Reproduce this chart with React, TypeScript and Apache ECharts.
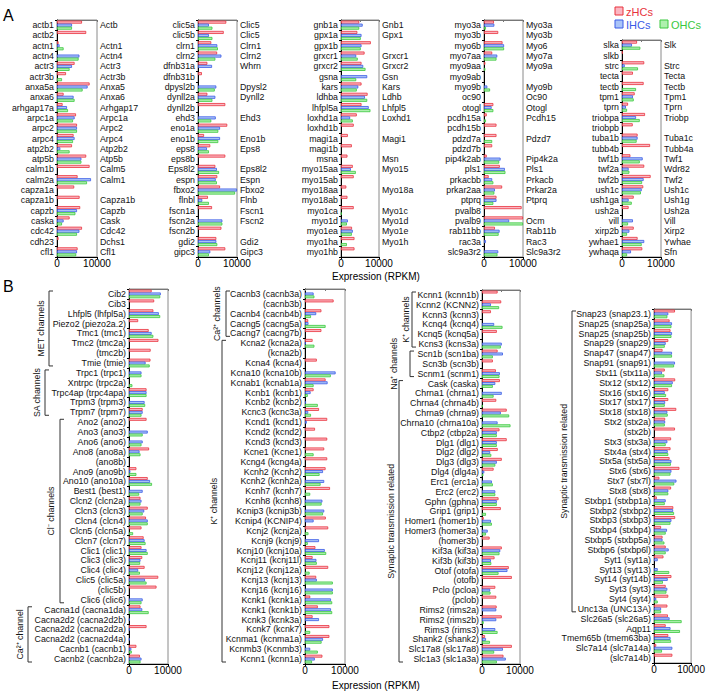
import React, { useEffect, useRef } from "react";
import * as echarts from "echarts";

// ---------- Panel A ----------
const aZf1 = ["actb1","actb2","actn1","actn4","actr3","actr3b","anxa5a","anxa6","arhgap17a","arpc1a","arpc2","arpc4","atp2b2","atp5b","calm1b","calm2a","capza1a","capza1b","capzb","caska","cdc42","cdh23","cfl1"];
const aMm1 = ["Actb","","Actn1","Actn4","Actr3","Actr3b","Anxa5","Anxa6","Arhgap17","Arpc1a","Arpc2","Arpc4","Atp2b2","Atp5b","Calm5","Calm1","","Capza1b","Capzb","Cask","Cdc42","Dchs1","Cfl1"];
const aZ1 = [6250,7300,400,0,4400,2250,8150,1650,1400,4750,5000,4150,3750,7300,8150,5150,4300,5650,5800,3150,6250,400,5150];
const aI1 = [3750,0,650,5600,3750,0,7650,4150,2500,4400,5000,4400,830,6100,0,8500,0,0,5000,1650,5600,0,5000];
const aO1 = [3750,0,1650,5400,3150,1250,6400,4400,2750,4000,5000,4000,3150,6100,0,7500,0,0,4600,1250,5000,0,4800];

const aZf2 = ["clic5a","clic5b","clrn1","clrn2","dfnb31a","dfnb31b","dpysl2b","dynll2a","dynll2b","ehd3","eno1a","eno1b","eps8","eps8b","Eps8l2","espn","fbxo2","flnbl","fscn1a","fscn2a","fscn2b","gdi2","gipc3"];
const aMm2 = ["Clic5","Clic5","Clrn1","Clrn2","Whrn","","Dpysl2","Dynll2","","Ehd3","","Eno1b","Eps8","","Eps8l2","Espn","Fbxo2","Flnb","Fscn1","Fscn2","","Gdi2","Gipc3"];
const aZ2 = [7250,6600,3400,4900,2400,1000,0,2400,7000,0,7500,1550,3150,7000,4450,4950,5650,2550,3600,0,6000,4700,7000];
const aI2 = [2800,2800,4950,6000,3600,0,4700,4450,0,4550,5650,5650,2300,0,4850,4550,10000,1100,0,6250,0,4700,3150];
const aO2 = [3700,3700,5100,4450,0,0,4300,3700,0,3400,5200,5200,2800,0,5400,4850,9500,2800,0,6250,0,4950,2800];

const aZf3 = ["gnb1a","gpx1a","gpx1b","grxcr1","grxcr2","gsna","kars","ldhba","lhfpl5a","loxhd1a","loxhd1b","magi1a","magi1b","msna","myo15aa","myo15ab","myo18aa","myo18ab","myo1ca","myo1d","myo1ea","myo1ha","myo1hb"];
const aMm3 = ["Gnb1","Gpx1","","Grxcr1","Grxcr2","Gsn","Kars","Ldhb","Lhfpl5","Loxhd1","","Magi1","","Msn","Myo15","","Myo18a","","Myo1c","Myo1d","Myo1e","Myo1h",""];
const aZ3 = [4800,4300,7850,6200,5400,0,5400,7000,5400,4150,3350,1800,2850,1700,3100,3350,1400,1700,3350,0,2900,3550,3550];
const aI3 = [5700,5400,5400,4000,5850,6900,4550,6300,7300,2400,0,0,0,0,2600,0,0,0,0,1800,3100,0,0];
const aO3 = [4800,5200,5200,4400,6450,4000,4150,6900,7750,3100,0,0,0,0,3900,0,0,0,150,1550,2850,1550,0];

const aZf4 = ["myo3a","myo3b","myo6b","myo7aa","myo9aa","myo9ab","myo9b","oc90","otogl","pcdh15a","pcdh15b","pdzd7a","pdzd7b","pip4k2ab","pls1","prkacbb","prkar2aa","ptprq","pvalb8","pvalb9","rab11bb","rac3a","slc9a3r2"];
const aMm4 = ["Myo3a","Myo3b","Myo6","Myo7a","Myo9a","","Myo9b","Oc90","Otogl","Pcdh15","","Pdzd7","","Pip4k2a","Pls1","Prkacb","Prkar2a","Ptprq","","Ocm","Rab11b","Rac3","Slc9a3r2"];
const aZ4 = [2550,3650,4750,2100,350,0,0,0,2400,700,3200,3200,2100,700,4050,1200,4650,3200,9650,10000,2800,0,0];
const aI4 = [2650,0,5150,3400,0,0,850,0,1950,0,0,0,0,4250,5350,2100,2800,3200,0,6450,4000,500,3650];
const aO4 = [500,0,5150,3200,350,0,1550,0,2400,500,0,2100,0,3900,5500,2400,2650,2400,0,10000,3750,0,3450];

const aZf5 = ["slka","slkb","strc","tecta","tectb","tpm1","tprn","triobpa","triobpb","tuba1b","tubb4b","twf1b","twf2a","twf2b","ush1c","ush1ga","ush2a","vill","xirp2b","ywhae1","ywhaqa"];
const aMm5 = ["Slk","","Strc","Tecta","Tectb","Tpm1","Tprn","Triobp","","Tuba1c","Tubb4a","Twf1","Wdr82","Twf2","Ush1c","Ush1g","Ush2a","Vill","Xirp2","Ywhae","Sfn"];
const aZ5 = [3850,170,5700,2800,5550,3250,1550,5900,2750,4000,7200,2150,5700,7350,5450,3000,1700,0,3000,4000,5200];
const aI5 = [2550,0,700,0,0,2800,1000,3600,0,4000,0,5300,1700,5550,5050,1700,0,2800,1900,5700,2300];
const aO5 = [4700,0,4100,0,3600,3000,1300,4550,0,3750,0,4550,1900,5150,4850,2500,0,1550,1300,5050,1300];

// ---------- Panel B ----------
const bCat1 = ["Cib2","Cib3","Lhfpl5 (lhfpl5a)","Piezo2 (piezo2a.2)","Tmc1 (tmc1)","Tmc2 (tmc2a)","(tmc2b)","Tmie (tmie)","Trpc1 (trpc1)","Xntrpc (trpc2a)","Trpc4ap (trpc4apa)","Trpm3 (trpm3)","Trpm7 (trpm7)","Ano2 (ano2)","Ano3 (ano3)","Ano6 (ano6)","Ano8 (ano8a)","(ano8b)","Ano9 (ano9b)","Ano10 (ano10a)","Best1 (best1)","Clcn2 (clcn2a)","Clcn3 (clcn3)","Clcn4 (clcn4)","Clcn5 (clcn5a)","Clcn7 (clcn7)","Clic1 (clic1)","Clic3 (clic3)","Clic4 (clic4)","Clic5 (clic5a)","(clic5b)","Clic6 (clic6)","Cacna1d (cacna1da)","Cacna2d2 (cacna2d2b)","Cacna2d2 (cacna2d2a)","Cacna2d2 (cacna2d4a)","Cacnb1 (cacnb1)","Cacnb2 (cacnb2a)"];
const bZ1 = [5800,6450,6250,2350,5050,7550,5550,5500,0,0,4500,0,3500,4500,0,0,5150,0,1900,4800,0,2950,4800,4350,3200,3750,3200,3400,4000,7500,7050,0,2950,0,4500,0,1900,2800];
const bI1 = [8150,0,7650,0,5800,0,0,4250,3200,0,4500,4000,3500,0,4800,3500,2700,0,350,5400,3500,3200,3900,4800,0,4000,4500,2950,2350,4100,0,3500,3400,170,170,170,600,3200];
const bO1 = [8000,0,8000,0,6250,0,0,5300,3200,870,4500,4150,3200,0,3500,3200,2950,0,1900,5900,2600,2950,3500,4800,1050,4250,4800,2850,2800,4500,0,3200,5050,0,0,0,700,2950];

const bCat2 = ["Cacnb3 (cacnb3a)","(cacnb3b)","Cacnb4 (cacnb4b)","Cacng5 (cacng5a)","Cacng7 (cacng7b)","Kcna2 (kcna2a)","(kcna2b)","Kcna4 (kcna4)","Kcna10 (kcna10b)","Kcnab1 (kcnab1a)","Kcnb1 (kcnb1)","Kcnb2 (kcnb2)","Kcnc3 (kcnc3a)","Kcnd1 (kcnd1)","Kcnd2 (kcnd2)","Kcnd3 (kcnd3)","Kcne1 (Kcne1)","Kcng4 (kcng4a)","Kcnh2 (Kcnh2)","Kcnh2 (kcnh2a)","Kcnh7 (kcnh7)","Kcnh8 (kcnh8)","Kcnip3 (kcnip3b)","Kcnip4 (KCNIP4)","Kcnj2 (kcnj2a)","Kcnj9 (kcnj9)","Kcnj10 (kcnj10a)","Kcnj11 (kcnj11l)","Kcnj12 (kcnj12a)","Kcnj13 (kcnj13)","Kcnj16 (kcnj16)","Kcnk1 (kcnk1a)","Kcnk1 (kcnk1b)","Kcnk3 (kcnk3a)","Kcnk7 (kcnk7)","Kcnma1 (kcnma1a)","Kcnmb3 (Kcnmb3)","Kcnn1 (kcnn1a)"];
const bZ2 = [0,7150,4100,800,4100,1900,0,2950,0,5150,2150,0,3500,5550,2500,5550,4800,5550,5150,0,6250,0,0,5200,5800,0,2600,1900,5800,2800,0,1300,3200,1900,6100,6100,0,4350];
const bI2 = [2150,0,2800,870,0,170,0,0,7650,5650,1400,250,800,450,0,0,0,0,4500,4800,0,4350,4800,2150,0,3500,4950,2850,0,2950,6950,6500,6500,3500,0,4500,1300,2450];
const bO2 = [2350,0,1500,5150,0,2350,0,0,6450,2150,700,3200,1500,0,0,0,2150,0,3650,3900,1300,4150,4500,0,870,700,5300,2950,1150,6950,6950,6800,6800,0,1300,4150,3200,1750];

const bCat3 = ["Kcnn1 (kcnn1b)","Kcnn2 (KCNN2)","Kcnn3 (kcnn3)","Kcnq4 (kcnq4)","Kcnq5 (kcnq5a)","Kcns3 (kcns3a)","Scn1b (scn1ba)","Scn3b (scn3b)","Scnm1 (scnm1)","Cask (caska)","Chrna1 (chrna1)","Chrna4 (chrna4b)","Chrna9 (chrna9)","Chrna10 (chrna10a)","Ctbp2 (ctbp2a)","Dlg1 (dlg1)","Dlg2 (dlg2)","Dlg3 (dlg3)","Dlg4 (dlg4a)","Erc1 (erc1a)","Erc2 (erc2)","Gphn (gphna)","Grip1 (grip1)","Homer1 (homer1b)","Homer3 (homer3a)","(homer3b)","Kif3a (kif3a)","Kif3b (kif3b)","Otof (otofa)","(otofb)","Pclo (pcloa)","(pclob)","Rims2 (rims2a)","Rims2 (rims2b)","Rims3 (rims3)","Shank2 (shank2)","Slc17a8 (slc17a8)","Slc1a3 (slc1a3a)"];
const bZ3 = [4100,5050,2350,0,3900,0,4100,2850,3650,4700,0,3750,6500,0,4600,6500,4150,5200,3050,0,0,4350,4950,450,0,2000,5200,3300,7050,7850,3500,3750,3850,5200,0,800,7850,5650];
const bI3 = [0,2350,0,3200,0,5200,5500,0,4700,3500,5200,0,4950,4100,3900,3900,2150,3900,600,2600,3500,3900,0,2350,1500,0,4800,2350,6700,0,2150,0,3750,3750,3500,1050,5500,6250];
const bO3 = [0,4500,0,5400,0,4950,2850,0,4600,2850,3050,170,7150,7500,3900,3900,2450,3500,350,2850,3500,3900,1050,2600,1050,0,4600,2450,4350,0,2250,0,0,450,4100,2100,3200,3900];

const bCat4 = ["Snap23 (snap23.1)","Snap25 (snap25a)","Snap25 (snap25b)","Snap29 (snap29)","Snap47 (snap47)","Snap91 (snap91)","Stx11 (stx11a)","Stx12 (stx12)","Stx16 (stx16)","Stx17 (stx17)","Stx18 (stx18)","Stx2 (stx2a)","(stx2b)","Stx3 (stx3a)","Stx4a (stx4)","Stx5a (stx5a)","Stx6 (stx6)","Stx7 (stx7l)","Stx8 (stx8)","Stxbp1 (stxbp1a)","Stxbp2 (stxbp2)","Stxbp3 (stxbp3)","Stxbp4 (stxbp4)","Stxbp5 (stxbp5a)","Stxbp6 (stxbp6l)","Syt1 (syt1a)","Syt13 (syt13)","Syt14 (syt14b)","Syt3 (syt3)","Syt4 (syt4)","Unc13a (UNC13A)","Slc26a5 (slc26a5)","Aqp11","Tmem65b (tmem63ba)","Slc7a14 (slc7a14a)","(slc7a14b)"];
const bZ4 = [5650,4200,4450,3850,2300,0,2900,5700,3850,3850,6000,3000,5650,4600,4450,4200,6850,1450,4600,750,5200,5700,1900,2300,3150,2550,0,4700,3150,3850,3600,3750,3150,3850,600,4950];
const bI4 = [3850,4850,4850,3150,4850,5650,2150,5050,2900,3000,3600,3000,0,3600,3700,4700,4700,6050,3850,3150,5150,4700,3500,2300,3950,1000,1000,3700,3600,600,1900,4200,4450,4450,4950,0];
const bO4 = [3600,4700,4700,2900,4850,5400,2800,4850,3250,2900,3700,2900,0,3150,3850,4550,4450,5450,3850,2900,5400,4450,3150,2800,3150,0,4100,2400,3350,1000,1900,7450,7000,4600,2150,0];

const seriesNames = ["zHCs", "IHCs", "OHCs"];
const axisTitle = "Expression (RPKM)";
const xTicks = { min: 0, max: 10000, interval: 10000 };

const FONT = '"Liberation Sans", Arial, Helvetica, sans-serif';
const FILLS = ["#fbb6c2", "#aac4f8", "#aef0ae"];
const LINES = ["#e8323c", "#3a5ae6", "#3ac83e"];

export default function App() {
  const ref = useRef<HTMLDivElement>(null);
  useEffect(() => {
    const chart = echarts.init(ref.current!, null, { renderer: "svg" });
    const panels: any[] = [
      { cats: aZf1, mm: aMm1, vals: [aZ1, aI1, aO1], left: 57, top: 20, width: 40, height: 237 },
      { cats: aZf2, mm: aMm2, vals: [aZ2, aI2, aO2], left: 198, top: 20, width: 39, height: 237 },
      { cats: aZf3, mm: aMm3, vals: [aZ3, aI3, aO3], left: 341, top: 20, width: 38, height: 237 },
      { cats: aZf4, mm: aMm4, vals: [aZ4, aI4, aO4], left: 484, top: 20, width: 39, height: 237 },
      { cats: aZf5, mm: aMm5, vals: [aZ5, aI5, aO5], left: 622, top: 40, width: 39, height: 217 },
      { cats: bCat1, vals: [bZ1, bI1, bO1], left: 129, top: 289, width: 39, height: 375 },
      { cats: bCat2, vals: [bZ2, bI2, bO2], left: 305, top: 289, width: 40, height: 375 },
      { cats: bCat3, vals: [bZ3, bI3, bO3], left: 482, top: 290, width: 38, height: 374 },
      { cats: bCat4, vals: [bZ4, bI4, bO4], left: 654, top: 309, width: 39, height: 354 },
    ];
    const grid: any[] = [];
    const xAxis: any[] = [];
    const yAxis: any[] = [];
    const series: any[] = [];
    panels.forEach((p, k) => {
      grid.push({
        left: p.left, top: p.top, width: p.width, height: p.height,
        show: true, borderColor: "#8a8a8a", borderWidth: 1, containLabel: false,
      });
      xAxis.push({
        type: "value", gridIndex: k, ...xTicks,
        axisLine: { show: true, lineStyle: { color: "#000", width: 1 } },
        axisTick: { show: true, length: 2, lineStyle: { color: "#000" } },
        axisLabel: { fontSize: 10, color: "#000", margin: 1, fontFamily: FONT, formatter: (v: number) => String(v) },
        splitLine: { show: false },
      });
      xAxis.push({
        type: "value", gridIndex: k, position: "top", min: 0, max: 10000, interval: 5000,
        axisLine: { show: true, lineStyle: { color: "#777", width: 1 } },
        axisTick: { show: true, inside: true, length: 2, lineStyle: { color: "#777" } },
        axisLabel: { show: false }, splitLine: { show: false },
      });
      const yi = yAxis.length;
      yAxis.push({
        type: "category", gridIndex: k, data: p.cats, inverse: true,
        axisLine: { show: true, lineStyle: { color: "#000", width: 1 } },
        axisTick: { show: true, length: 2, lineStyle: { color: "#000" } },
        axisLabel: { interval: 0, fontSize: 8.8, color: "#111", margin: 3, fontFamily: FONT },
      });
      if (p.mm) {
        const mm = p.mm;
        yAxis.push({
          type: "category", gridIndex: k, data: p.cats, inverse: true, position: "right",
          axisLine: { show: false }, axisTick: { show: false },
          axisLabel: {
            interval: 0, fontSize: 8.8, color: "#111", margin: 3, fontFamily: FONT,
            formatter: (_v: string, i: number) => mm[i],
          },
        });
      }
      p.vals.forEach((vals: number[], s: number) => {
        series.push({
          type: "bar", name: seriesNames[s], xAxisIndex: 2 * k, yAxisIndex: yi,
          data: vals.map((v) => (v === 0 ? null : v)),
          barGap: "0%", barCategoryGap: "12%", silent: true,
          itemStyle: { color: FILLS[s], borderColor: LINES[s], borderWidth: 0.8 },
        });
      });
    });

    const graphic: any[] = [];
    const txt = (x: number, y: number, text: string, size: number, extra: any = {}) => ({
      type: "text", x, y, silent: true, ...extra,
      style: {
        text, fontSize: size, fontFamily: FONT, fill: extra.fill || "#000",
        align: extra.align || "left", verticalAlign: "middle",
        textAlign: extra.align || "left", textVerticalAlign: "middle",
      },
    });
    graphic.push(txt(3, 15, "A", 16));
    graphic.push(txt(3, 286, "B", 16));
    graphic.push(txt(376, 276, axisTitle, 10, { align: "center" }));
    graphic.push(txt(376, 685, axisTitle, 10, { align: "center" }));
    // legend
    const leg = [
      { x: 615, y: 7, name: seriesNames[0], s: 0 },
      { x: 615, y: 20, name: seriesNames[1], s: 1 },
      { x: 660, y: 20, name: seriesNames[2], s: 2 },
    ];
    leg.forEach((l) => {
      graphic.push({ type: "rect", shape: { x: l.x, y: l.y, width: 8, height: 8 }, style: { fill: FILLS[l.s], stroke: LINES[l.s], lineWidth: 1 } });
      graphic.push(txt(l.x + 11, l.y + 4.5, l.name, 11, { fill: LINES[l.s] }));
    });
    // brackets
    const brackets = [
      { g: 5, i0: 0, i1: 7, x: 49, lx: 41, t: "MET channels" },
      { g: 5, i0: 8, i1: 12, x: 45, lx: 37, t: "SA channels" },
      { g: 5, i0: 13, i1: 31, x: 60, lx: 51, t: "Cl\u207B channels" },
      { g: 5, i0: 32, i1: 37, x: 28, lx: 20, t: "Ca\u00B2\u207A channel" },
      { g: 6, i0: 0, i1: 4, x: 226, lx: 217, t: "Ca\u00B2\u207A channels" },
      { g: 6, i0: 5, i1: 37, x: 222, lx: 214, t: "K\u207A channels" },
      { g: 7, i0: 0, i1: 5, x: 412, lx: 406, t: "K\u207A channels" },
      { g: 7, i0: 6, i1: 8, x: 410, lx: 394, t: "Na\u207A channels" },
      { g: 7, i0: 9, i1: 37, x: 399, lx: 391, t: "Synaptic transmission related" },
      { g: 8, i0: 0, i1: 30, x: 572, lx: 564, t: "Synaptic transmission related" },
    ];
    brackets.forEach((b) => {
      const p = panels[b.g];
      const rh = p.height / p.cats.length;
      const y1 = p.top + b.i0 * rh + 2;
      const y2 = p.top + (b.i1 + 1) * rh - 2;
      graphic.push({
        type: "polyline", silent: true,
        shape: { points: [[b.x + 4, y1], [b.x, y1], [b.x, y2], [b.x + 4, y2]] },
        style: { stroke: "#333", fill: null, lineWidth: 1 },
      });
      graphic.push(txt(b.lx, (y1 + y2) / 2, b.t, 8.8, { align: "center", rotation: Math.PI / 2, fill: "#111" }));
    });

    chart.setOption({
      animation: false,
      textStyle: { fontFamily: FONT },
      grid, xAxis, yAxis, series, graphic,
    });
    return () => chart.dispose();
  }, []);
  return <div ref={ref} style={{ position: "absolute", left: 0, top: 0, width: 708, height: 691 }} />;
}
